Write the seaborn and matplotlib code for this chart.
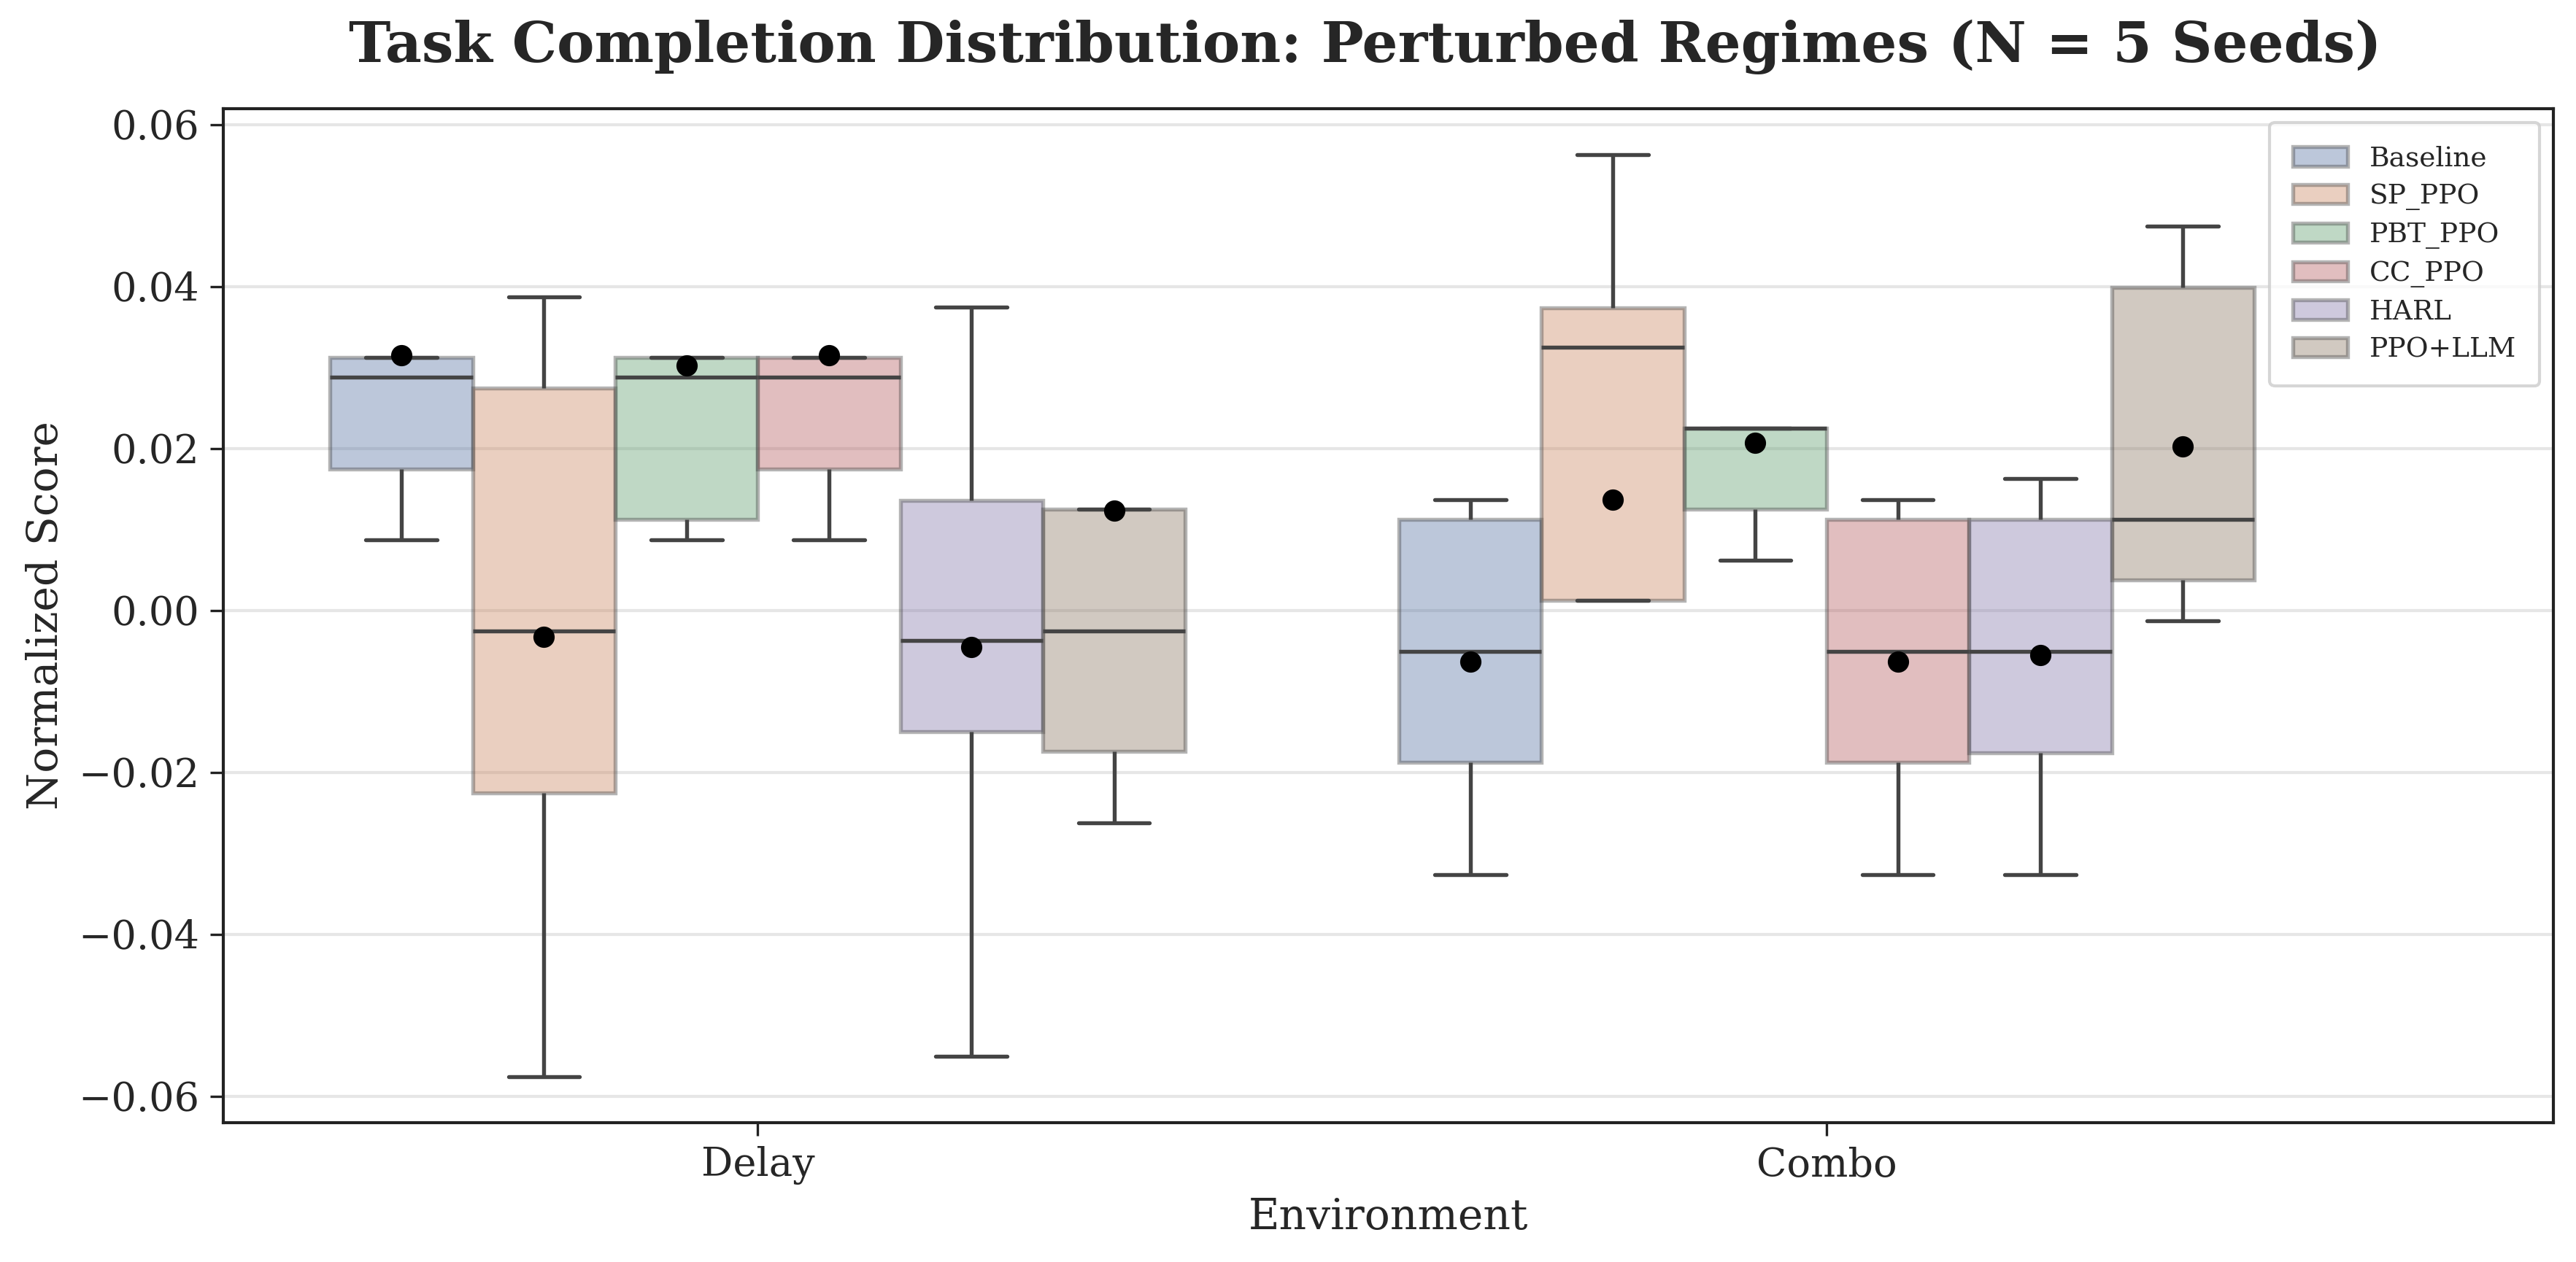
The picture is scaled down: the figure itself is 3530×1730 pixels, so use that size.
import numpy as np
import pandas as pd
import seaborn as sns
import matplotlib.pyplot as plt

environments = ["Delay", "Combo"]
methods = ["Baseline", "SP_PPO", "PBT_PPO", "CC_PPO", "HARL", "PPO+LLM"]

# five seeds per (environment, method)
# (the extreme seed in some runs is an outlier; fliers are hidden)
delay_baseline = [0.00876, 0.01744, 0.02879, 0.03123, 0.07138]
delay_sp_ppo = [-0.05757, -0.02254, -0.00251, 0.02742, 0.03876]
delay_pbt_ppo = [0.00876, 0.01127, 0.02879, 0.03123, 0.07140]
delay_cc_ppo = [0.00876, 0.01744, 0.02879, 0.03123, 0.07138]
delay_harl = [-0.05506, -0.01500, -0.00373, 0.01357, 0.03747]
delay_ppo_llm = [-0.02627, -0.01744, -0.00251, 0.01249, 0.09513]

combo_baseline = [-0.03263, -0.01876, -0.00502, 0.01123, 0.01367]
combo_sp_ppo = [-0.05905, 0.00125, 0.03250, 0.03738, 0.05627]
combo_pbt_ppo = [0.00621, 0.01248, 0.02246, 0.02246, 0.04009]
combo_cc_ppo = [-0.03263, -0.01876, -0.00502, 0.01123, 0.01367]
combo_harl = [-0.03263, -0.01757, -0.00502, 0.01123, 0.01625]
combo_ppo_llm = [-0.00125, 0.00376, 0.01123, 0.03990, 0.04749]

scores = {
    "Delay": [delay_baseline, delay_sp_ppo, delay_pbt_ppo,
              delay_cc_ppo, delay_harl, delay_ppo_llm],
    "Combo": [combo_baseline, combo_sp_ppo, combo_pbt_ppo,
              combo_cc_ppo, combo_harl, combo_ppo_llm],
}

rows = []
for env in environments:
    for method, vals in zip(methods, scores[env]):
        for seed, v in enumerate(vals):
            rows.append({"Environment": env, "Method": method,
                         "seed": seed, "score": v})
df = pd.DataFrame(rows)

sns.set_theme(style="ticks", palette="deep")
plt.rcParams["font.family"] = ["DejaVu Serif"]

fig = plt.figure(figsize=(3530 / 300, 1730 / 300), dpi=300)
ax = fig.add_axes([306 / 3530, 1 - 1539 / 1730, (3499 - 306) / 3530, (1539 - 149) / 1730])

sns.boxplot(data=df, x="Environment", y="score", hue="Method",
            order=environments, hue_order=methods, ax=ax,
            width=0.8, gap=0, showfliers=False, showmeans=True,
            linecolor="#444444", linewidth=1.3,
            boxprops={"alpha": 0.4},
            meanprops={"marker": "o", "markerfacecolor": "black",
                       "markeredgecolor": "black", "markersize": 6})

ax.set_xlim(-0.5, 1.68)
ax.yaxis.grid(True, color="#e6e6e6", linewidth=1.0)
ax.set_axisbelow(True)
for s in ax.spines.values():
    s.set_visible(True)
    s.set_color("#222222")
    s.set_linewidth(1.0)

ax.tick_params(axis="both", labelsize=13, length=4.3, width=0.8, color="#222222")
ax.set_xlabel("Environment", fontsize=14)
ax.set_ylabel("Normalized Score", fontsize=14)
fig.suptitle("Task Completion Distribution: Perturbed Regimes (N = 5 Seeds)",
             x=0.530, y=0.963, va="center",
             fontsize=18.5, fontweight="bold")

sns.move_legend(ax, "upper right", title=None, fontsize=9, frameon=True,
                labelspacing=0.42, borderpad=0.85, fancybox=True,
                edgecolor="#cccccc")

fig.savefig("out.png", dpi=300)
